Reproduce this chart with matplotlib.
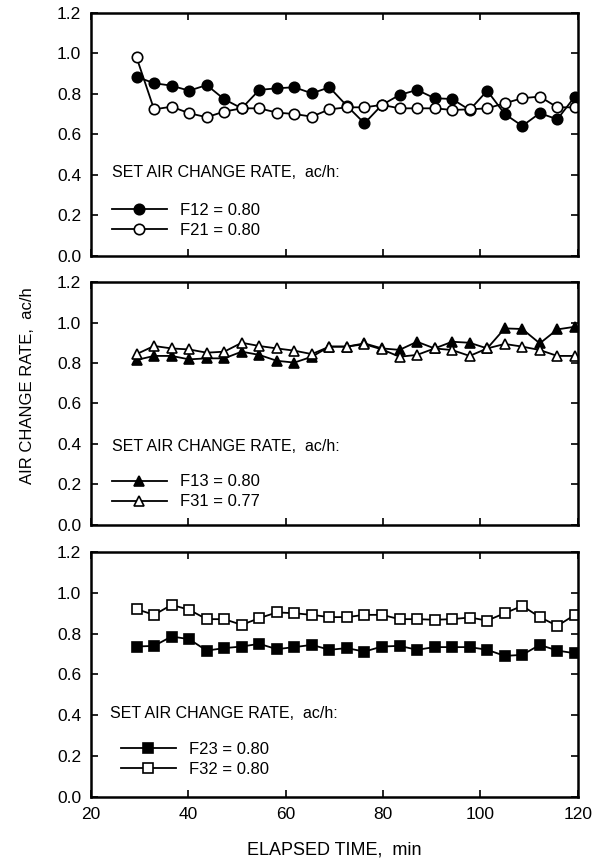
import matplotlib
matplotlib.use('Agg')
import matplotlib.pyplot as plt

plt.rcParams['font.family'] = ['Liberation Sans', 'DejaVu Sans']

# elapsed time (min)
time_min = [29.4, 33.0, 36.6, 40.2, 43.8, 47.4, 51.0, 54.6, 58.2, 61.8, 65.4, 69.0, 72.6,
            76.2, 79.8, 83.4, 87.0, 90.6, 94.2, 97.8, 101.4, 105.0, 108.6, 112.2, 115.8, 119.4]

f12 = [0.885, 0.853, 0.841, 0.816, 0.844, 0.774, 0.729, 0.820, 0.828, 0.833, 0.803, 0.833, 0.741,
       0.655, 0.746, 0.795, 0.820, 0.779, 0.775, 0.721, 0.816, 0.701, 0.642, 0.705, 0.675, 0.787]
f21 = [0.981, 0.724, 0.737, 0.705, 0.685, 0.713, 0.729, 0.729, 0.708, 0.701, 0.688, 0.724, 0.734,
       0.734, 0.746, 0.729, 0.729, 0.729, 0.721, 0.724, 0.729, 0.754, 0.779, 0.787, 0.734, 0.734]

f13 = [0.815, 0.835, 0.835, 0.818, 0.823, 0.823, 0.856, 0.840, 0.811, 0.802, 0.831, 0.881, 0.881,
       0.897, 0.872, 0.865, 0.905, 0.872, 0.905, 0.900, 0.872, 0.971, 0.968, 0.897, 0.966, 0.979]
f31 = [0.844, 0.884, 0.872, 0.867, 0.851, 0.856, 0.900, 0.884, 0.872, 0.861, 0.844, 0.881, 0.881,
       0.893, 0.867, 0.831, 0.840, 0.872, 0.864, 0.835, 0.872, 0.894, 0.881, 0.864, 0.835, 0.835]

f23 = [0.737, 0.740, 0.786, 0.773, 0.717, 0.729, 0.737, 0.750, 0.724, 0.734, 0.745, 0.721, 0.729,
       0.712, 0.737, 0.740, 0.721, 0.734, 0.734, 0.734, 0.721, 0.691, 0.696, 0.745, 0.717, 0.704]
f32 = [0.920, 0.892, 0.941, 0.917, 0.871, 0.871, 0.843, 0.876, 0.904, 0.900, 0.892, 0.881, 0.881,
       0.892, 0.892, 0.871, 0.871, 0.868, 0.871, 0.879, 0.864, 0.900, 0.936, 0.881, 0.838, 0.892]

labels = [("F12 = 0.80", "F21 = 0.80"), ("F13 = 0.80", "F31 = 0.77"), ("F23 = 0.80", "F32 = 0.80")]
series = [(f12, f21), (f13, f31), (f23, f32)]
markers = [("o", 7.5), ("^", 7.0), ("s", 6.5)]

x_ticks = [20, 40, 60, 80, 100, 120]
y_ticks = [0.0, 0.2, 0.4, 0.6, 0.8, 1.0, 1.2]

fig = plt.figure(figsize=(6.05, 8.63), dpi=100)
rects = [(0.150, 0.7034, 0.805, 0.2816),
         (0.150, 0.3917, 0.805, 0.2815),
         (0.150, 0.0765, 0.805, 0.2839)]
title_pos = [(0.043, 0.342), (0.043, 0.322), (0.040, 0.342)]
leg_pos = [(0.036, 0.232), (0.036, 0.222), (0.055, 0.238)]

for i, rect in enumerate(rects):
    ax = fig.add_axes(rect)
    (filled, opened) = series[i]
    m, ms = markers[i]
    l1, = ax.plot(time_min, filled, color='black', lw=1.3, marker=m, ms=ms,
                  mfc='black', mec='black', mew=1.2, label=labels[i][0])
    l2, = ax.plot(time_min, opened, color='black', lw=1.3, marker=m, ms=ms,
                  mfc='white', mec='black', mew=1.2, label=labels[i][1])
    ax.set_xlim(20, 120)
    ax.set_ylim(0, 1.2)
    ax.set_xticks(x_ticks)
    ax.set_yticks(y_ticks)
    ax.set_yticklabels([f"{v:.1f}" for v in y_ticks])
    ax.tick_params(direction='in', length=5, width=1.2, top=True, right=True,
                   labelsize=12.5, pad=7)
    if i < 2:
        ax.set_xticklabels([])
    for s in ax.spines.values():
        s.set_linewidth(1.8)
    ax.text(title_pos[i][0], title_pos[i][1], "SET AIR CHANGE RATE,  ac/h:",
            transform=ax.transAxes, fontsize=11.5, va='center', ha='left')
    ax.legend(handles=[l1, l2], loc='upper left', bbox_to_anchor=leg_pos[i],
              frameon=False, fontsize=12, handlelength=3.3, handletextpad=0.8,
              labelspacing=0.3, borderpad=0.2, borderaxespad=0.0)
    if i == 2:
        ax.set_xlabel("ELAPSED TIME,  min", fontsize=13, labelpad=14)

fig.text(0.045, 0.553, "AIR CHANGE RATE,  ac/h", rotation=90, fontsize=12,
         ha='center', va='center')

fig.savefig("out.png", dpi=100)
